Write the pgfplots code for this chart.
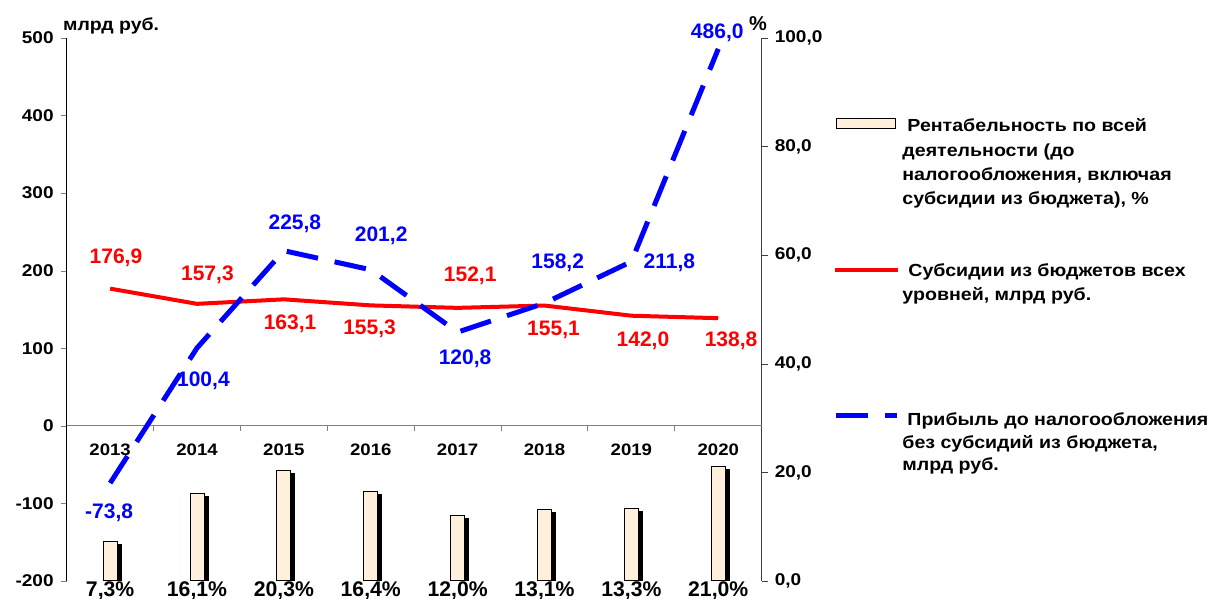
\documentclass[border=0pt]{standalone}
\usepackage{pgfplots}
\pgfplotsset{compat=1.18}
\usetikzlibrary{shadows}
\usepackage{fontspec}
\setmainfont{Liberation Sans}
\newfontfamily\wide{Liberation Sans}[FakeStretch=1.12]
\definecolor{beige}{RGB}{255,240,220}
\newcommand\fs[1]{\fontsize{#1}{#1}\selectfont\bfseries}
\newcommand\wfs[1]{\wide\fontsize{#1}{#1}\selectfont\bfseries}
\pgfplotsset{base/.style={scale only axis, width=347.5pt, height=271.5pt,
  at={(33.35pt,9pt)}, anchor=south west, xmin=-0.5, xmax=7.5,
  tick align=outside, major tick length=3pt, clip mode=individual,
  /pgf/number format/assume math mode=true}}
\begin{document}
\begin{tikzpicture}
\useasboundingbox (0,0) rectangle (605.5pt,299.5pt);
% ---------- bars (right axis, %) ----------
\begin{axis}[base, axis y line*=right, axis x line=none,
  ymin=0, ymax=100, ytick={0,20,40,60,80,100},
  y axis line style={black!75}, y tick style={black!75},
  yticklabel style={font=\wfs{8.5}, /pgf/number format/.cd, fixed, fixed zerofill, precision=1, use comma},
  ]
\addplot[ybar, bar width=7pt, bar shift=0pt, fill=beige, draw=black, line width=0.5pt,
  drop shadow={shadow xshift=2pt, shadow yshift=-1.5pt, fill=black, opacity=1}]
  coordinates {(0,7.3) (1,16.1) (2,20.3) (3,16.4) (4,12.0) (5,13.1) (6,13.3) (7,21.0)};
\begin{scope}[every node/.style={anchor=base, inner sep=0pt, font=\fs{10.6}, yshift=-8pt}]
\node at (axis cs:0,0) {7,3\%};
\node at (axis cs:1,0) {16,1\%};
\node at (axis cs:2,0) {20,3\%};
\node at (axis cs:3,0) {16,4\%};
\node at (axis cs:4,0) {12,0\%};
\node at (axis cs:5,0) {13,1\%};
\node at (axis cs:6,0) {13,3\%};
\node at (axis cs:7,0) {21,0\%};
\end{scope}
\node[anchor=center, inner sep=0pt, font=\fs{10}] at (axis cs:7.5,100) [xshift=-1.8pt, yshift=7pt] {\%};
\end{axis}
% ---------- lines (left axis, bn rub) ----------
\begin{axis}[base, axis y line*=left, axis x line=none,
  ymin=-200, ymax=500, ytick={-200,-100,0,100,200,300,400,500},
  yticklabel style={font=\wfs{8.5}},
  ]
\draw[gray, line width=0.5pt] (axis cs:-0.5,0) -- (axis cs:7.5,0);
\draw[gray, line width=0.5pt] (axis cs:0.5,0) -- ++(0pt,-2.5pt);
\draw[gray, line width=0.5pt] (axis cs:1.5,0) -- ++(0pt,-2.5pt);
\draw[gray, line width=0.5pt] (axis cs:2.5,0) -- ++(0pt,-2.5pt);
\draw[gray, line width=0.5pt] (axis cs:3.5,0) -- ++(0pt,-2.5pt);
\draw[gray, line width=0.5pt] (axis cs:4.5,0) -- ++(0pt,-2.5pt);
\draw[gray, line width=0.5pt] (axis cs:5.5,0) -- ++(0pt,-2.5pt);
\draw[gray, line width=0.5pt] (axis cs:6.5,0) -- ++(0pt,-2.5pt);
\begin{scope}[every node/.style={anchor=base, inner sep=0pt, font=\wfs{8.3}, yshift=-15pt}]
\node at (axis cs:0,0) {2013};
\node at (axis cs:1,0) {2014};
\node at (axis cs:2,0) {2015};
\node at (axis cs:3,0) {2016};
\node at (axis cs:4,0) {2017};
\node at (axis cs:5,0) {2018};
\node at (axis cs:6,0) {2019};
\node at (axis cs:7,0) {2020};
\end{scope}
\addplot[red, line width=2pt, mark=none]
  coordinates {(0,176.9) (1,157.3) (2,163.1) (3,155.3) (4,152.1) (5,155.1) (6,142.0) (7,138.8)};
\addplot[blue, line width=2.5pt, mark=none, dash pattern=on 16pt off 8.5pt]
  coordinates {(0,-73.8) (1,100.4) (2,225.8) (3,201.2) (4,120.8) (5,158.2) (6,211.8) (7,486.0)};
\begin{scope}[every node/.style={anchor=center, inner sep=0pt, font=\fs{10.5}, text=red}]
\node at (axis cs:0,176.9) [xshift=2.9pt, yshift=15.5pt] {176,9};
\node at (axis cs:1,157.3) [xshift=5.2pt, yshift=14.5pt] {157,3};
\node at (axis cs:2,163.1) [xshift=3.1pt, yshift=-12pt] {163,1};
\node at (axis cs:3,155.3) [xshift=-0.6pt, yshift=-11.7pt] {155,3};
\node at (axis cs:4,152.1) [xshift=6.3pt, yshift=16.2pt] {152,1};
\node at (axis cs:5,155.1) [xshift=4.5pt, yshift=-12pt] {155,1};
\node at (axis cs:6,142.0) [xshift=5.8pt, yshift=-12.7pt] {142,0};
\node at (axis cs:7,138.8) [xshift=6.4pt, yshift=-11.5pt] {138,8};
\end{scope}
\begin{scope}[every node/.style={anchor=center, inner sep=0pt, font=\fs{10.5}, text=blue}]
\node at (axis cs:0,-73.8) [xshift=-0.5pt, yshift=-14.6pt] {-73,8};
\node at (axis cs:1,100.4) [xshift=3.2pt, yshift=-16.4pt] {100,4};
\node at (axis cs:2,225.8) [xshift=5.5pt, yshift=13.3pt] {225,8};
\node at (axis cs:3,201.2) [xshift=5.2pt, yshift=17pt] {201,2};
\node at (axis cs:4,120.8) [xshift=3.7pt, yshift=-13.3pt] {120,8};
\node at (axis cs:5,158.2) [xshift=6.6pt, yshift=20pt] {158,2};
\node at (axis cs:6,211.8) [xshift=19pt, yshift=-0.5pt] {211,8};
\node at (axis cs:7,486.0) [xshift=-0.5pt, yshift=8.1pt] {486,0};
\end{scope}
\node[anchor=base west, inner sep=0pt, font=\wfs{8.7}] at (axis cs:-0.5,500) [xshift=-2pt, yshift=4pt] {млрд руб.};
\end{axis}
% ---------- legend ----------
\begin{scope}[x=0.5pt, y=0.5pt, every node/.style={anchor=base west, inner sep=0pt, font=\wfs{8.75}}]
\filldraw[fill=beige, draw=black, line width=0.5pt] (836,470) rectangle (895,480);
\node at (907,467) {Рентабельность по всей};
\node at (902,442.7) {деятельности (до};
\node at (902,418.3) {налогообложения, включая};
\node at (902,394) {субсидии из бюджета), \%};
\draw[red, line width=2pt] (835,329) -- (898,329);
\node at (908,322) {Субсидии из бюджетов всех};
\node at (902,298) {уровней, млрд руб.};
\draw[blue, line width=2.5pt, dash pattern=on 16pt off 8.5pt] (836,183.3) -- (897,183.3);
\node at (907,173.3) {Прибыль до налогообложения};
\node at (902,150.8) {без субсидий из бюджета,};
\node at (902,128.3) {млрд руб.};
\end{scope}
\end{tikzpicture}
\end{document}
